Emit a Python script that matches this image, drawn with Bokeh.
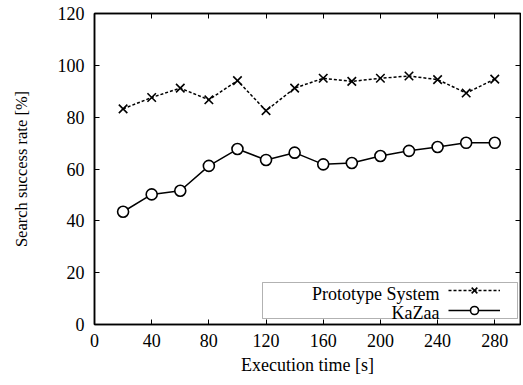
from bokeh.plotting import figure
from bokeh.models import (Range1d, FixedTicker, LinearAxis, Legend, LegendItem,
                          BoxAnnotation, Label)
from bokeh.embed import file_html
from bokeh.resources import INLINE

# ---- data ----
time_s = [20, 40, 60, 80, 100, 120, 140, 160, 180, 200, 220, 240, 260, 280]
prototype = [83.2, 87.6, 91.2, 86.7, 94.1, 82.5, 91.2, 95.0, 93.8, 95.0, 95.9, 94.5, 89.3, 94.7]
kazaa = [43.5, 50.2, 51.6, 61.2, 67.7, 63.5, 66.3, 61.8, 62.3, 65.0, 67.0, 68.5, 70.1, 70.1]
x_ticks = [0, 40, 80, 120, 160, 200, 240, 280]
y_ticks = [0, 20, 40, 60, 80, 100, 120]
series_names = ["Prototype System", "KaZaa"]
x_title = "Execution time [s]"
y_title = "Search success rate [%]"

FONT = "'Liberation Serif', 'Times New Roman', serif"

p = figure(width=521, height=383, output_backend="svg", toolbar_location=None,
           x_range=Range1d(0, 298), y_range=Range1d(0, 120),
           min_border_left=94, min_border_right=1, min_border_top=13, min_border_bottom=59)
p.grid.visible = False
p.outline_line_color = "black"
p.outline_line_width = 1.5
p.background_fill_color = "white"

for ax, ticks in ((p.xaxis[0], x_ticks), (p.yaxis[0], y_ticks)):
    ax.ticker = FixedTicker(ticks=ticks)
    ax.major_tick_in = 5
    ax.major_tick_out = 0
    ax.minor_tick_in = 0
    ax.minor_tick_out = 0
    ax.axis_line_width = 1.5
    ax.major_tick_line_width = 1
    ax.major_label_text_font = FONT
    ax.major_label_text_font_size = "18px"
    ax.major_label_text_color = "black"
    ax.axis_label_text_font = FONT
    ax.axis_label_text_font_style = "normal"
    ax.axis_label_text_color = "black"

p.xaxis.axis_label = x_title
p.yaxis.axis_label = y_title
p.xaxis.axis_label_text_font_size = "18px"
p.yaxis.axis_label_text_font_size = "16.5px"
p.xaxis.major_label_standoff = 9
p.xaxis.axis_label_standoff = 5
p.yaxis.major_label_standoff = 10
p.yaxis.axis_label_standoff = 24

# mirrored ticks on right / top
for loc, ticks in (("right", y_ticks), ("above", x_ticks)):
    ax = LinearAxis(ticker=FixedTicker(ticks=ticks), major_tick_in=5, major_tick_out=0,
                    minor_tick_in=0, minor_tick_out=0,
                    major_label_overrides={t: "" for t in ticks},
                    major_label_standoff=0, axis_line_width=1.5)
    p.add_layout(ax, loc)

proto_line = p.line(time_s, prototype, line_color="black", line_width=1.5, line_dash="3 2")
proto_pts = p.scatter(time_s, prototype, marker="x", size=12, line_color="black", line_width=1.6)
kazaa_line = p.line(time_s, kazaa, line_color="black", line_width=1.5)
kazaa_pts = p.scatter(time_s, kazaa, marker="circle", size=11, line_color="black",
                      fill_color="white", line_width=1.6)

# legend frame
box = BoxAnnotation(left=168, right=423, bottom=6, top=42,
                    left_units="screen", right_units="screen",
                    bottom_units="screen", top_units="screen",
                    fill_color="white", fill_alpha=1, line_color="black", line_width=1)
p.add_layout(box)

legend = Legend(items=[LegendItem(label=" ", renderers=[proto_line, proto_pts]),
                       LegendItem(label=" ", renderers=[kazaa_line, kazaa_pts])],
                location=(354, 4), glyph_width=52, glyph_height=20, label_height=20,
                label_width=0, label_standoff=0, spacing=0, padding=0, margin=0,
                border_line_color=None, background_fill_alpha=0,
                label_text_font_size="16px")
p.add_layout(legend)

for name, yy in zip(series_names, (31, 12)):
    p.add_layout(Label(x=345, y=yy, x_units="screen", y_units="screen", text=name,
                       text_align="right", text_baseline="middle", text_font=FONT,
                       text_font_size="18px", text_color="black"))

open("out.html", "w").write(file_html(p, INLINE))
